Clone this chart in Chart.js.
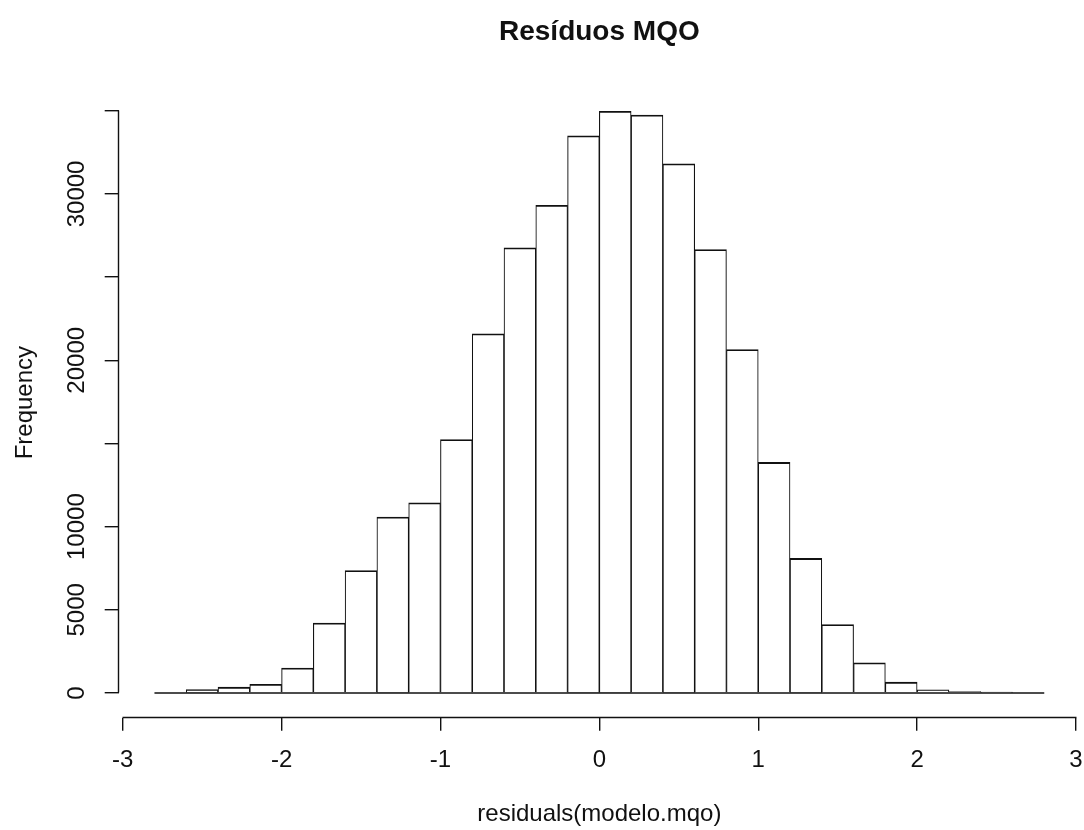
<!DOCTYPE html>
<html>
<head>
<meta charset="utf-8">
<title>Resíduos MQO</title>
<script src="https://cdn.jsdelivr.net/npm/chart.js@4.4.1/dist/chart.umd.min.js"></script>
<style>
  html, body { margin: 0; padding: 0; background: #fff; }
  #wrap { width: 1084px; height: 830px; }
</style>
</head>
<body>
<div id="wrap"><canvas id="mycanvas" width="1084" height="830"></canvas></div>
<script>
// histogram bins (width 0.2) and counts
var binMids = [-2.7, -2.5, -2.3, -2.1, -1.9, -1.7, -1.5, -1.3, -1.1, -0.9, -0.7, -0.5, -0.3, -0.1,
               0.1, 0.3, 0.5, 0.7, 0.9, 1.1, 1.3, 1.5, 1.7, 1.9, 2.1, 2.3, 2.5, 2.7];
var counts = [0, 200, 350, 520, 1500, 4200, 7360, 10570, 11430, 15240, 21590, 26760, 29320, 33490,
              34970, 34740, 31810, 26660, 20640, 13860, 8090, 4110, 1810, 650, 190, 80, 50, 0];
var breakRange = [-2.8, 2.8];

var xTicks = [-3, -2, -1, 0, 1, 2, 3];
var yTicks = [0, 5000, 10000, 15000, 20000, 25000, 30000, 35000];
// R leaves out the labels that would overlap
var yTickLabels = ['0', '5000', '10000', '', '20000', '', '30000', ''];

var ink = '#111111';
var fontFamily = "'Liberation Sans', Arial, sans-serif";
Chart.defaults.font.family = fontFamily;
Chart.defaults.color = ink;

var histData = [];
for (var i = 0; i < binMids.length; i++) {
  histData.push({x: binMids[i], y: counts[i]});
}

// axis lines only span the tick range, like base R; y labels are rotated
var rAxes = {
  id: 'rAxes',
  afterDraw: function(chart) {
    var ctx = chart.ctx;
    var xs = chart.scales.x, ys = chart.scales.y;
    var area = chart.chartArea;
    ctx.save();
    ctx.strokeStyle = ink;
    ctx.lineWidth = 1.4;
    ctx.beginPath();
    var yb = Math.round(area.bottom - 0.5) + 0.5;
    ctx.moveTo(Math.round(xs.getPixelForValue(xTicks[0]) - 0.5) + 0.5, yb);
    ctx.lineTo(Math.round(xs.getPixelForValue(xTicks[xTicks.length - 1]) - 0.5) + 0.5, yb);
    var xl = Math.round(area.left - 0.5) + 0.5;
    ctx.moveTo(xl, Math.round(ys.getPixelForValue(yTicks[0]) - 0.5) + 0.5);
    ctx.lineTo(xl, Math.round(ys.getPixelForValue(yTicks[yTicks.length - 1]) - 0.5) + 0.5);
    ctx.stroke();

    ctx.fillStyle = ink;
    ctx.font = '24px ' + fontFamily;
    ctx.textAlign = 'center';
    ctx.textBaseline = 'middle';
    for (var j = 0; j < yTicks.length; j++) {
      if (!yTickLabels[j]) continue;
      ctx.save();
      ctx.translate(area.left - 41, ys.getPixelForValue(yTicks[j]));
      ctx.rotate(-Math.PI / 2);
      ctx.fillText(yTickLabels[j], 0, 0);
      ctx.restore();
    }
    ctx.restore();
  }
};

var ctx = document.getElementById('mycanvas');

var histChart = new Chart(ctx, {
  type: 'bar',
  data: {
    datasets: [
      {
        type: 'line',
        data: [{x: breakRange[0], y: 0}, {x: breakRange[1], y: 0}],
        borderColor: ink,
        borderWidth: 1.6,
        pointRadius: 0,
        order: 0
      },
      {
        label: 'Frequency',
        data: histData,
        backgroundColor: '#ffffff',
        borderColor: ink,
        borderWidth: {top: 1.8, left: 1.1, right: 1.1, bottom: 0},
        barPercentage: 1,
        categoryPercentage: 1,
        order: 1
      }
    ]
  },
  options: {
    responsive: false,
    animation: false,
    devicePixelRatio: 1,
    layout: { padding: {left: 0, right: 4, top: 0, bottom: 0} },
    plugins: {
      legend: { display: false },
      tooltip: { enabled: false },
      title: {
        display: true,
        fullSize: false,
        text: 'Resíduos MQO',
        color: ink,
        font: { size: 28, weight: 'bold' },
        padding: {top: 15, bottom: 39}
      }
    },
    scales: {
      x: {
        type: 'linear',
        min: -3.025,
        max: 3.025,
        offset: false,
        afterBuildTicks: function(s) {
          s.ticks = xTicks.map(function(v) { return {value: v}; });
        },
        afterFit: function(s) {
          s.height = 112.3;
          s.paddingLeft = 0;
          s.paddingRight = 0;
        },
        grid: { offset: false, drawOnChartArea: false, tickLength: 13, color: ink, lineWidth: 1.4 },
        border: { display: false },
        ticks: {
          autoSkip: false,
          maxRotation: 0,
          padding: 15,
          color: ink,
          font: { size: 24 },
          callback: function(v) { return String(v); }
        },
        title: {
          display: true,
          text: 'residuals(modelo.mqo)',
          color: ink,
          font: { size: 24 },
          padding: {top: 0, bottom: 1}
        }
      },
      y: {
        min: -1485,
        max: 36391,
        afterBuildTicks: function(s) {
          s.ticks = yTicks.map(function(v) { return {value: v}; });
        },
        afterFit: function(s) {
          s.width = 118.7;
          s.paddingTop = 0;
          s.paddingBottom = 0;
        },
        grid: { drawOnChartArea: false, tickLength: 14, color: ink, lineWidth: 1.4 },
        border: { display: false },
        ticks: { display: false },
        title: {
          display: true,
          text: 'Frequency',
          color: ink,
          font: { size: 24 },
          padding: {top: 11, bottom: 0}
        }
      }
    }
  },
  plugins: [rAxes]
});
</script>
</body>
</html>
